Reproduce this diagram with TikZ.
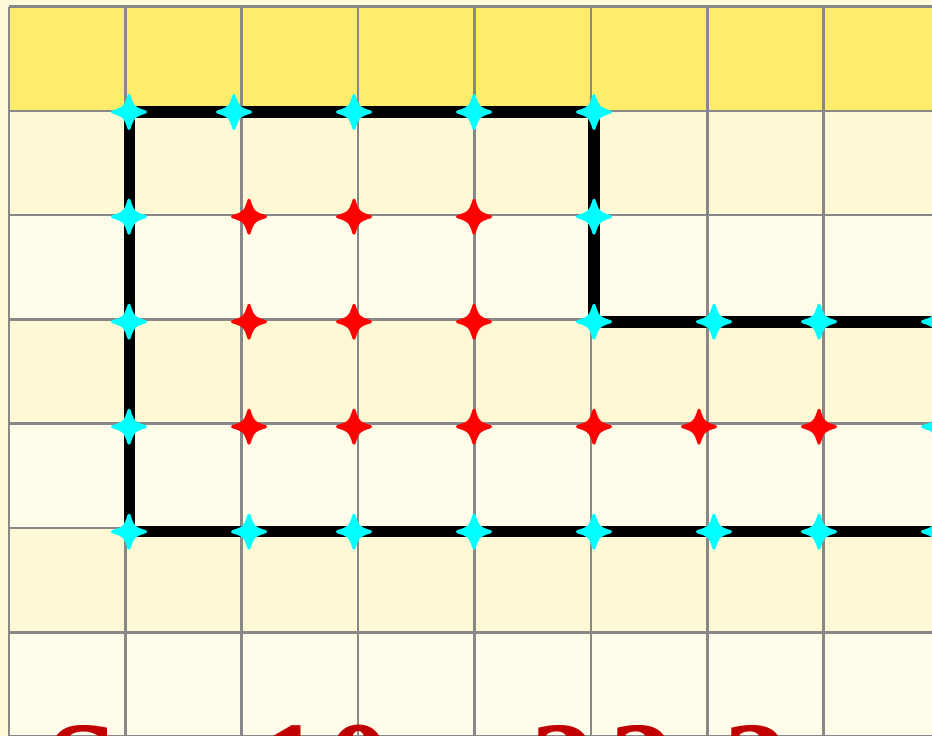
\documentclass[tikz,border=0pt]{standalone}
\usepackage{fontspec}
\setmainfont{Liberation Serif}
\definecolor{bgc}{HTML}{FFFAD8}
\definecolor{topy}{HTML}{FFEC6A}
\definecolor{creamA}{HTML}{FFF8D4}
\definecolor{creamB}{HTML}{FFFCEA}
\definecolor{gridc}{HTML}{888888}
\definecolor{cyanm}{HTML}{00FFFF}
\definecolor{redm}{HTML}{FF0000}
\definecolor{dred}{HTML}{C00000}
\tikzset{
  gridline/.style={draw=gridc, line width=2.6pt},
  contour/.style={draw=black, line width=11.5pt, line cap=rect, line join=miter},
  pics/starmark/.style={code={
    \filldraw[line width=3pt, line join=round, draw=#1, fill=#1]
      (16.5,0) .. controls (5,3.5) and (3.5,5) .. (0,16.5)
      .. controls (-3.5,5) and (-5,3.5) .. (-16.5,0)
      .. controls (-5,-3.5) and (-3.5,-5) .. (0,-16.5)
      .. controls (3.5,-5) and (5,-3.5) .. cycle;
  }},
  eqtext/.style={anchor=base west, inner sep=0pt, text=dred,
    font=\fontsize{130}{130}\selectfont\bfseries}
}
\begin{document}
\begin{tikzpicture}[x=1pt,y=-1pt]
\useasboundingbox (0,0) rectangle (932,736);
\begin{scope}
\clip (0,0) rectangle (932,736);
\fill[bgc] (0,0) rectangle (932,736);
% rows
\fill[topy]   (8.9,6.5)   rectangle (960,110.8);
\fill[creamA] (8.9,110.8) rectangle (960,215.1);
\fill[creamB] (8.9,215.1) rectangle (960,319.4);
\fill[creamA] (8.9,319.4) rectangle (960,423.7);
\fill[creamB] (8.9,423.7) rectangle (960,528.0);
\fill[creamA] (8.9,528.0) rectangle (960,632.3);
\fill[creamB] (8.9,632.3) rectangle (960,740);
% grid lines
\foreach \k in {0,...,8} {
  \draw[gridline] ({8.9+116.4*\k},6.5) -- ({8.9+116.4*\k},736.6);
}
\foreach \j in {0,...,7} {
  \draw[gridline] (8.9,{6.5+104.3*\j}) -- (960,{6.5+104.3*\j});
}
% contour
\coordinate (c1) at (129.5,112);
\coordinate (c2) at (594,112);
\coordinate (c3) at (594,322);
\coordinate (c4) at (960,322);
\coordinate (c5) at (960,531.7);
\coordinate (c6) at (129.5,531.7);
\draw[contour] (c4) -- (c3) -- (c2) -- (c1) -- (c6) -- (c5);
% boundary marks
\foreach \p in {(129,112),(234,112),(354,112),(474,112),(594,112),
                (129,216.7),(594,216.7),
                (129,321.7),(594,321.7),(714,321.7),(819,321.7),(939,321.7),
                (129,426.7),(939,426.7),
                (129,531.7),(249,531.7),(354,531.7),(474,531.7),(594,531.7),(714,531.7),(819,531.7),(939,531.7)}
  \pic at \p {starmark=cyanm};
% interior marks
\foreach \p in {(249,216.7),(354,216.7),(474,216.7),
                (249,321.7),(354,321.7),(474,321.7),
                (249,426.7),(354,426.7),(474,426.7),(594,426.7),(699,426.7),(819,426.7)}
  \pic at \p {starmark=redm};
% formula
\node[eqtext] (eq) at (46,811) {S = 1\kern4pt 0 + 2\kern14pt 2\kern3pt:\kern3pt 2 − 1};
\end{scope}
\end{tikzpicture}
\end{document}
